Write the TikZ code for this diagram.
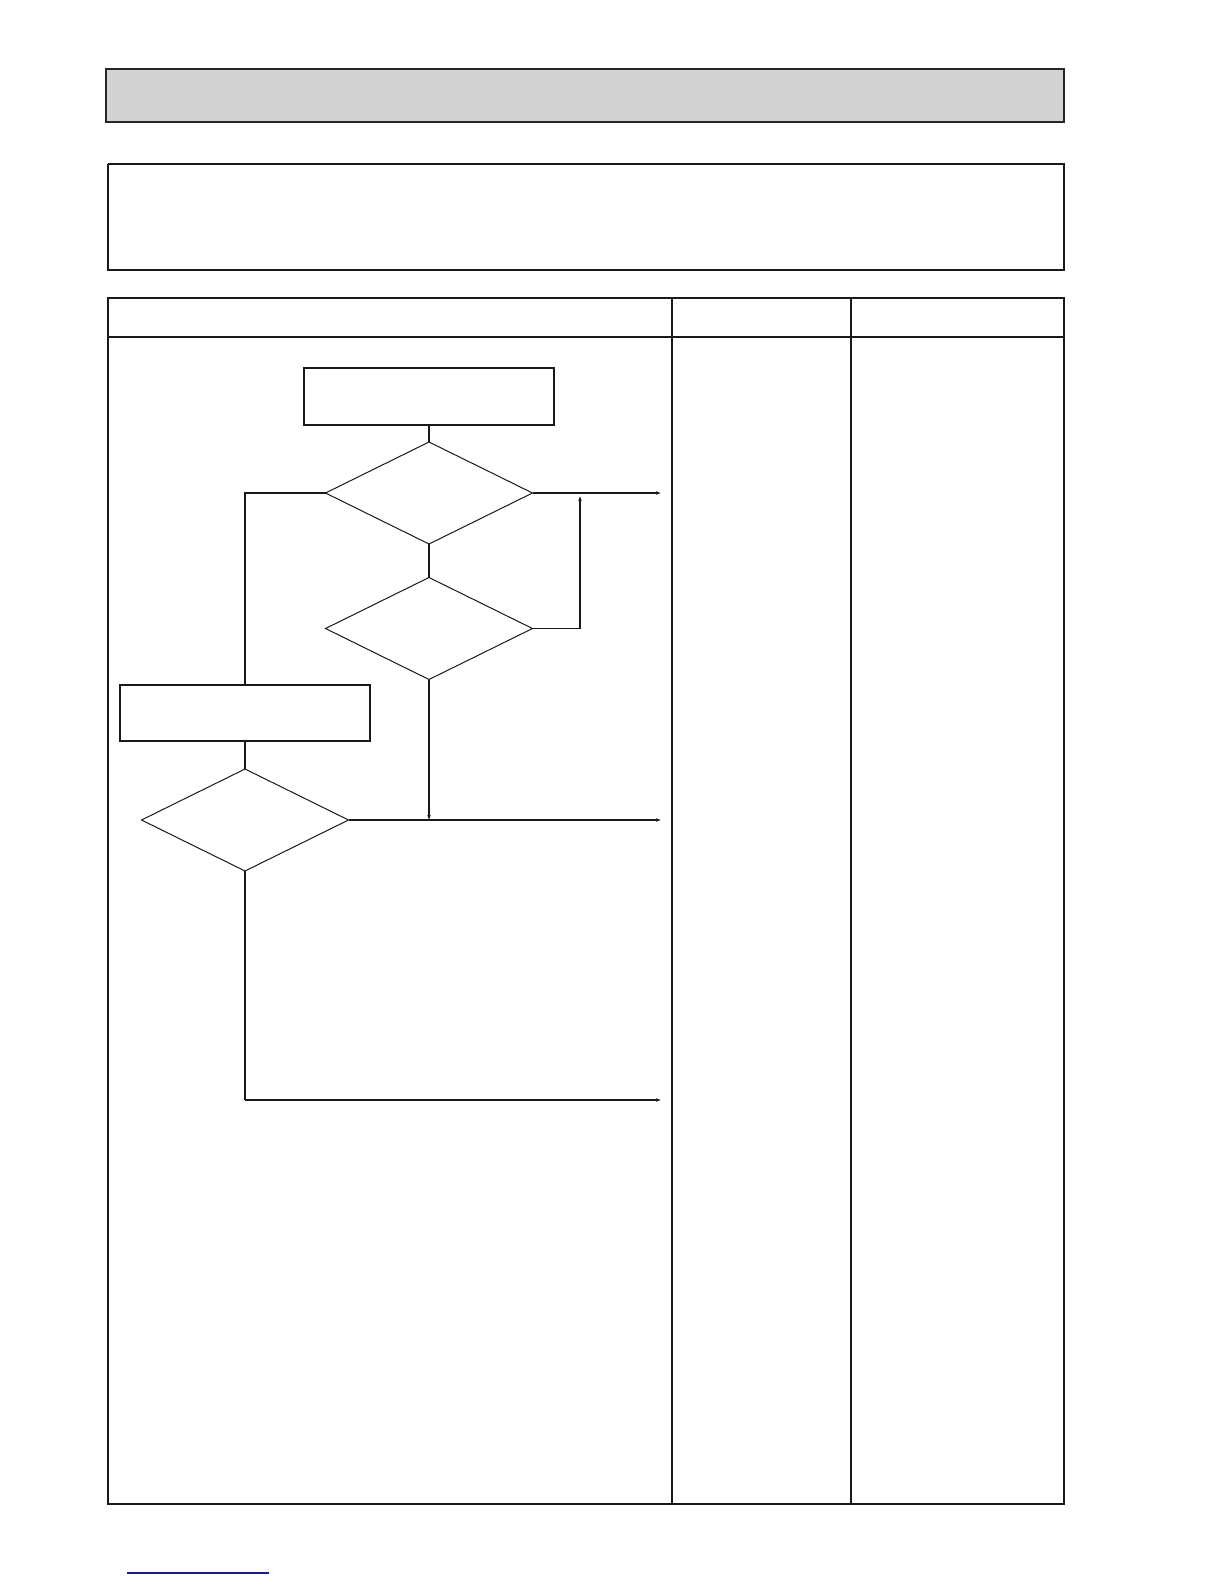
\documentclass[tikz,border=0pt]{standalone}
\usetikzlibrary{shapes.geometric,arrows.meta}
\definecolor{hdrgray}{HTML}{D3D3D3}
\definecolor{linkblue}{HTML}{1A1A8C}
\tikzset{
  frame/.style={draw=black!90, line width=0.6pt},
  procbox/.style={draw=black!90, line width=0.6pt, rectangle, inner sep=0pt, outer sep=0pt},
  decision/.style={draw=black!90, line width=0.5pt, diamond, inner sep=0pt, outer sep=0pt,
                   minimum width=103.5pt, minimum height=51pt},
  flow/.style={draw=black!90, line width=0.6pt},
  flowarrow/.style={flow, -{Latex[length=3pt,width=1.8pt]}}
}
\begin{document}
\begin{tikzpicture}[x=0.5pt,y=-0.5pt]
\useasboundingbox (0,0) rectangle (1224,1584);
% title bar
\filldraw[fill=hdrgray, draw=black!85, line width=0.6pt] (106,69) rectangle (1064,122);
% description box
\draw[line width=0.6pt, black!90] (108,164) -- (108,271) (1064,164) -- (1064,271);
\draw[line width=1.4pt, black!90] (107.5,164) -- (1064.5,164) (107.5,270) -- (1064.5,270);
% table
\draw[frame] (108,298) rectangle (1064,1504);
\draw[frame] (108,337) -- (1064,337);
\draw[frame] (672,298) -- (672,1504);
\draw[frame] (851,298) -- (851,1504);
% flowchart nodes
\node[procbox, minimum width=125pt, minimum height=28.5pt] (b1) at (429,396.5) {};
\node[decision] (d1) at (429,493) {};
\node[decision] (d2) at (429,628.5) {};
\node[procbox, minimum width=125pt, minimum height=28pt] (b2) at (245,713) {};
\node[decision] (d3) at (245,820) {};
% targets
\coordinate (t1) at (662,493);
\coordinate (t2) at (662,820);
\coordinate (t3) at (662,1100);
\coordinate (loopA) at (580,628.5);
\coordinate (loopB) at (580,493);
\coordinate (leftA) at (245,493);
\coordinate (bot) at (245,1100);
\coordinate (join) at (429,820);
% connectors
\draw[flow] (b1.south) -- (d1.north);
\draw[flow] (d1.south) -- (d2.north);
\draw[flowarrow] (d1.east) -- (t1);
\draw[flow] (d2.east) -- (loopA);
\draw[flowarrow] (loopA) -- ([yshift=-1pt]loopB);
\draw[flowarrow] (d2.south) -- ([yshift=-0.5pt]join);
\draw[flow] (d1.west) -- (leftA) -- (b2.north);
\draw[flow] (b2.south) -- (d3.north);
\draw[flowarrow] (d3.east) -- (t2);
\draw[flow] (d3.south) -- (bot);
\draw[flowarrow] (bot) -- (t3);
% bottom link underline
\draw[linkblue, line width=1pt] (127,1573) -- (269,1573);
\end{tikzpicture}
\end{document}
